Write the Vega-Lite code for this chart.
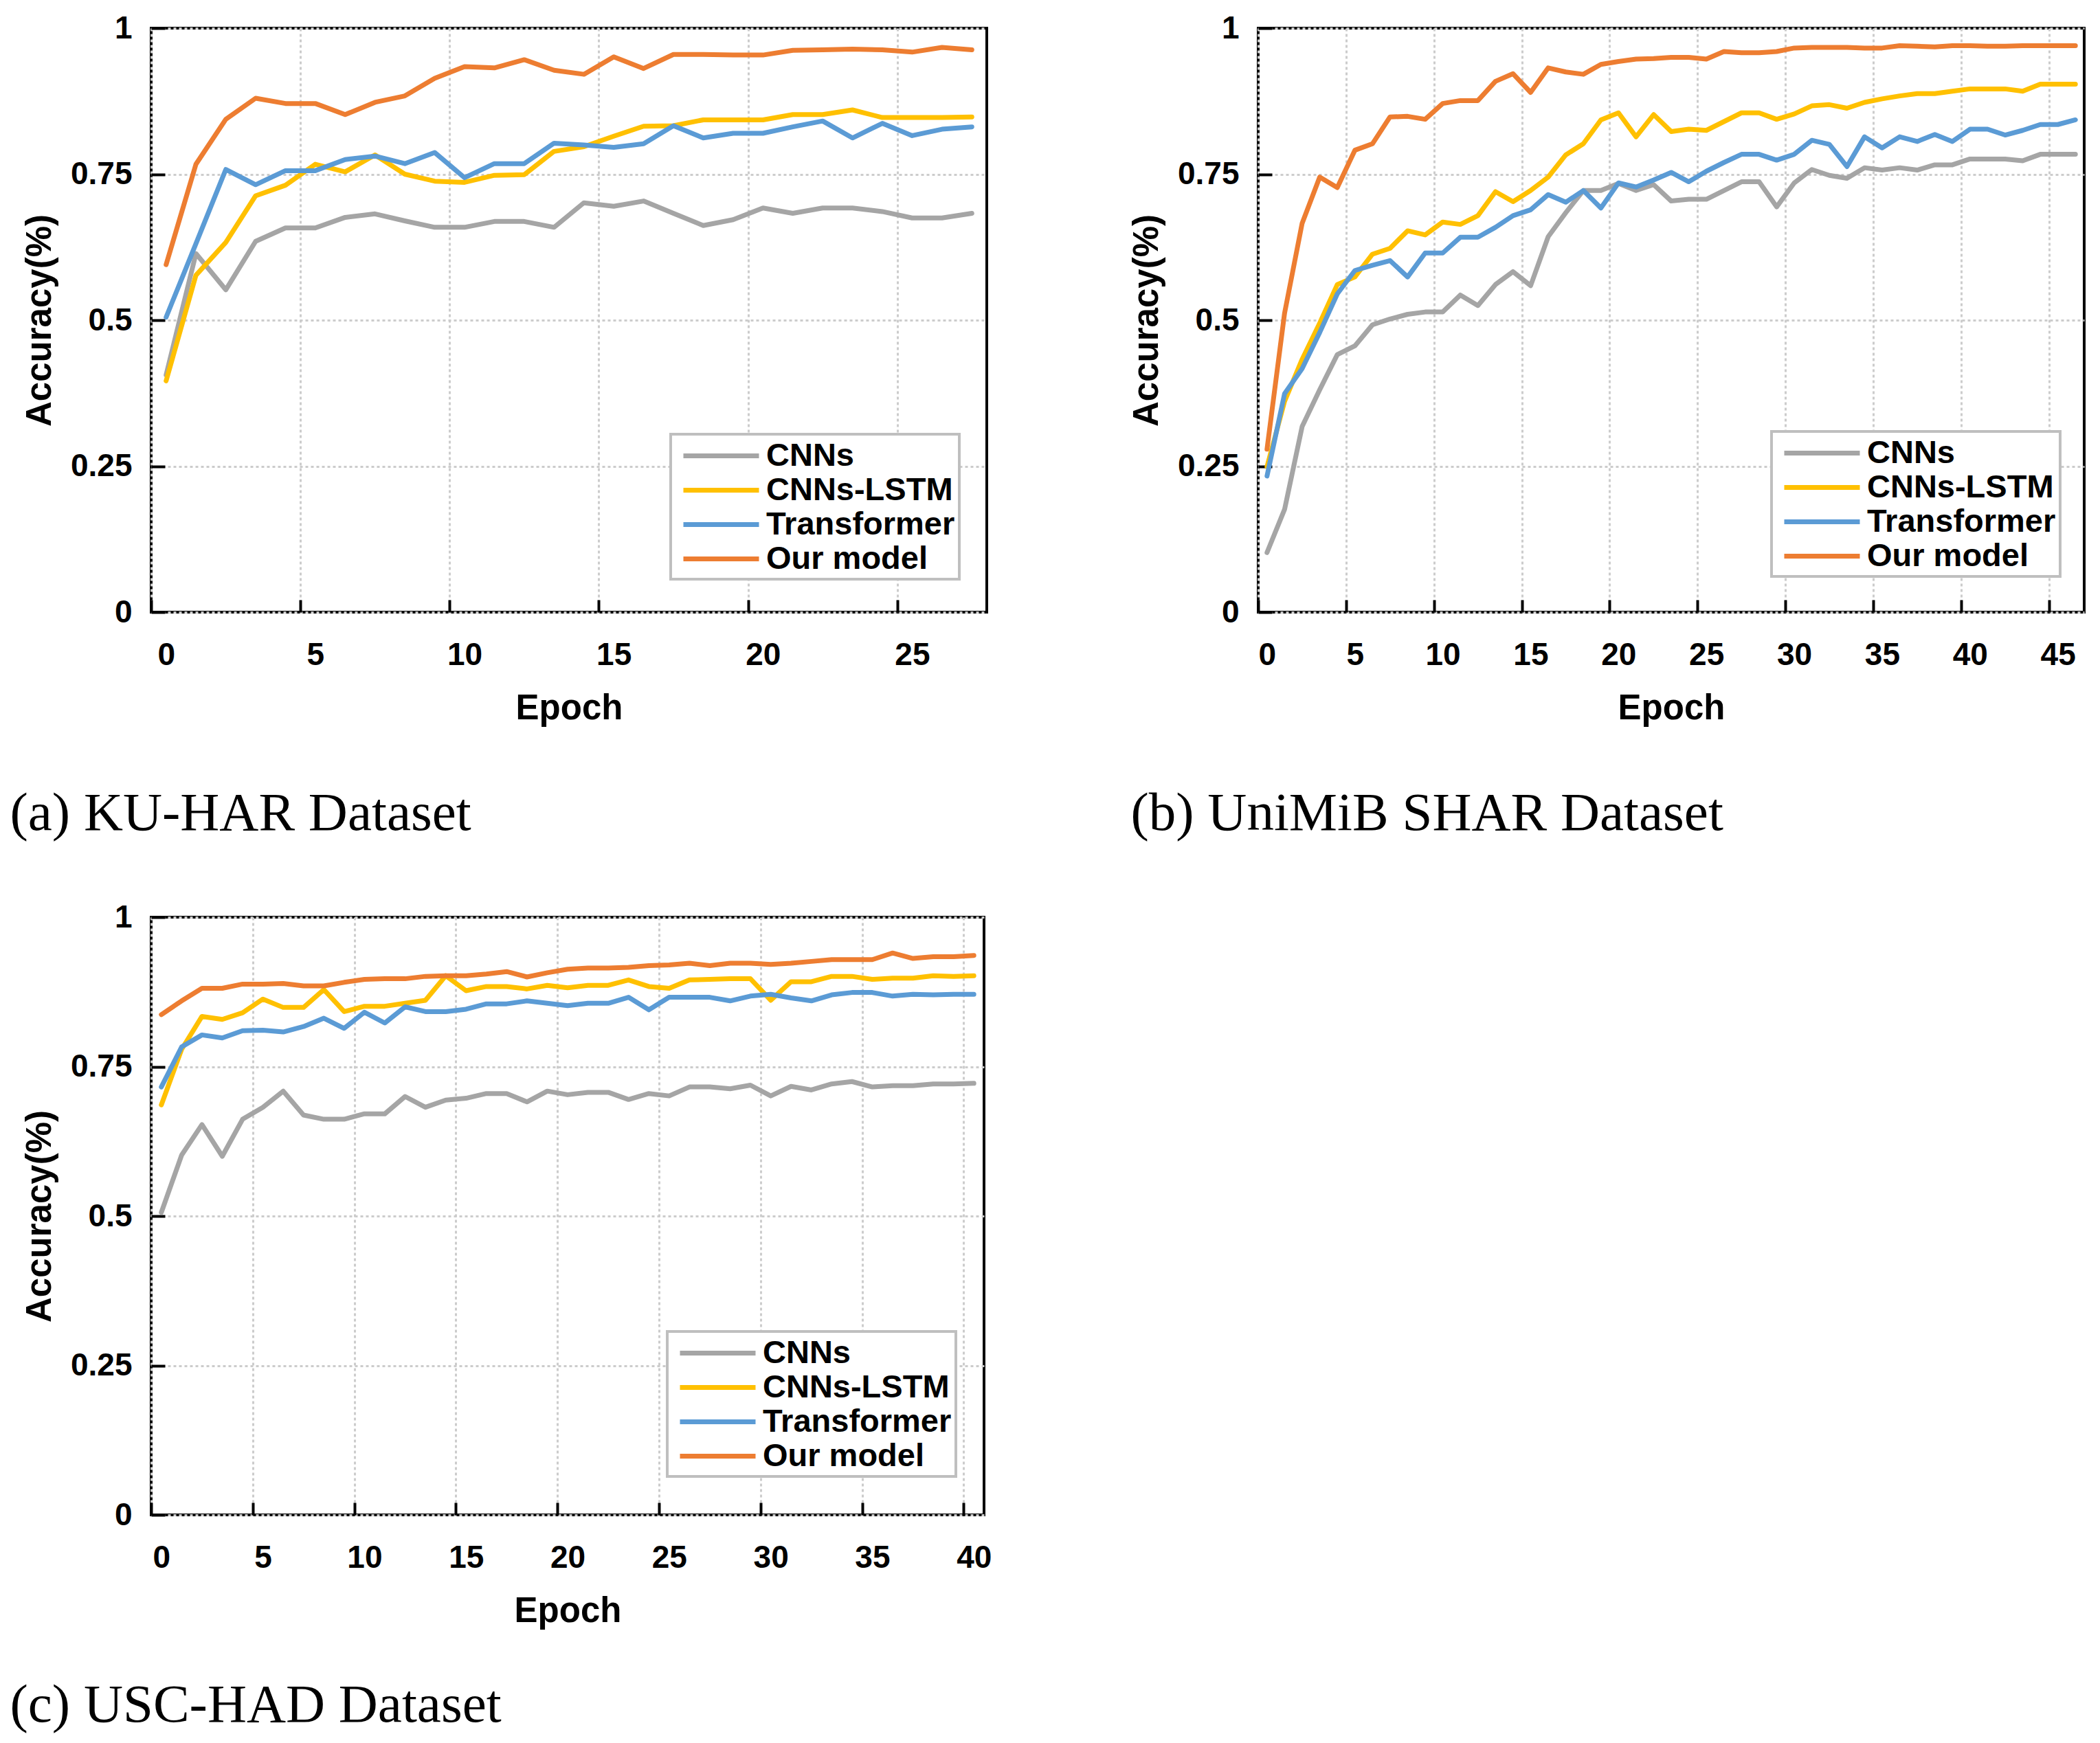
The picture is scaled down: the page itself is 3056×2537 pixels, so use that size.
{
  "$schema": "https://vega.github.io/schema/vega-lite/v6.json",
  "background": "white",
  "padding": {"left": 12, "top": 16, "right": 5, "bottom": 5},
  "config": {
    "view": {"stroke": "black", "strokeWidth": 4},
    "font": "Liberation Sans",
    "axis": {
      "domain": false, "grid": true, "gridColor": "#cccccc", "gridDash": [4, 4], "gridWidth": 3,
      "ticks": true, "tickColor": "black", "tickWidth": 4,
      "labelFont": "Liberation Sans", "labelFontWeight": "bold", "labelFontSize": 46, "labelColor": "black",
      "titleFont": "Liberation Sans", "titleFontWeight": "bold", "titleFontSize": 51, "titleColor": "black",
      "labelFlush": false, "labelOverlap": false
    },
    "axisX": {"tickSize": -18, "labelPadding": 58, "titlePadding": 30},
    "axisY": {"tickSize": -20, "labelPadding": 48, "titlePadding": 18},
    "legend": {
      "title": null, "orient": "none", "symbolType": "M-2.5,0H2.5", "symbolSize": 1936, "symbolStrokeWidth": 6,
      "symbolOffset": 42, "labelOffset": 40, "labelLimit": 0,
      "labelFont": "Liberation Sans", "labelFontWeight": "bold", "labelFontSize": 47, "labelColor": "black",
      "strokeColor": "#bfbfbf", "strokeWidth": 4, "fillColor": "white",
      "padding": 6, "rowPadding": 1
    },
    "title": {
      "orient": "bottom", "anchor": "start", "frame": "bounds", "font": "Liberation Serif",
      "fontSize": 79, "fontWeight": "normal", "color": "black", "offset": 90, "dx": -18
    },
    "line": {"strokeWidth": 7, "strokeJoin": "round", "strokeCap": "round"}
  },
  "datasets": {
    "ku": [
      {"epoch":0,"model":"CNNs","accuracy":0.406},{"epoch":1,"model":"CNNs","accuracy":0.614},{"epoch":2,"model":"CNNs","accuracy":0.552},{"epoch":3,"model":"CNNs","accuracy":0.635},{"epoch":4,"model":"CNNs","accuracy":0.658},{"epoch":5,"model":"CNNs","accuracy":0.658},{"epoch":6,"model":"CNNs","accuracy":0.676},{"epoch":7,"model":"CNNs","accuracy":0.682},{"epoch":8,"model":"CNNs","accuracy":0.670},{"epoch":9,"model":"CNNs","accuracy":0.659},{"epoch":10,"model":"CNNs","accuracy":0.659},{"epoch":11,"model":"CNNs","accuracy":0.669},{"epoch":12,"model":"CNNs","accuracy":0.669},{"epoch":13,"model":"CNNs","accuracy":0.659},{"epoch":14,"model":"CNNs","accuracy":0.701},{"epoch":15,"model":"CNNs","accuracy":0.695},{"epoch":16,"model":"CNNs","accuracy":0.704},{"epoch":17,"model":"CNNs","accuracy":0.683},{"epoch":18,"model":"CNNs","accuracy":0.662},{"epoch":19,"model":"CNNs","accuracy":0.672},{"epoch":20,"model":"CNNs","accuracy":0.692},{"epoch":21,"model":"CNNs","accuracy":0.683},{"epoch":22,"model":"CNNs","accuracy":0.692},{"epoch":23,"model":"CNNs","accuracy":0.692},{"epoch":24,"model":"CNNs","accuracy":0.686},{"epoch":25,"model":"CNNs","accuracy":0.675},{"epoch":26,"model":"CNNs","accuracy":0.675},{"epoch":27,"model":"CNNs","accuracy":0.683},
      {"epoch":0,"model":"CNNs-LSTM","accuracy":0.396},{"epoch":1,"model":"CNNs-LSTM","accuracy":0.577},{"epoch":2,"model":"CNNs-LSTM","accuracy":0.633},{"epoch":3,"model":"CNNs-LSTM","accuracy":0.713},{"epoch":4,"model":"CNNs-LSTM","accuracy":0.731},{"epoch":5,"model":"CNNs-LSTM","accuracy":0.767},{"epoch":6,"model":"CNNs-LSTM","accuracy":0.754},{"epoch":7,"model":"CNNs-LSTM","accuracy":0.783},{"epoch":8,"model":"CNNs-LSTM","accuracy":0.750},{"epoch":9,"model":"CNNs-LSTM","accuracy":0.738},{"epoch":10,"model":"CNNs-LSTM","accuracy":0.736},{"epoch":11,"model":"CNNs-LSTM","accuracy":0.748},{"epoch":12,"model":"CNNs-LSTM","accuracy":0.749},{"epoch":13,"model":"CNNs-LSTM","accuracy":0.789},{"epoch":14,"model":"CNNs-LSTM","accuracy":0.797},{"epoch":15,"model":"CNNs-LSTM","accuracy":0.815},{"epoch":16,"model":"CNNs-LSTM","accuracy":0.832},{"epoch":17,"model":"CNNs-LSTM","accuracy":0.833},{"epoch":18,"model":"CNNs-LSTM","accuracy":0.843},{"epoch":19,"model":"CNNs-LSTM","accuracy":0.843},{"epoch":20,"model":"CNNs-LSTM","accuracy":0.843},{"epoch":21,"model":"CNNs-LSTM","accuracy":0.852},{"epoch":22,"model":"CNNs-LSTM","accuracy":0.852},{"epoch":23,"model":"CNNs-LSTM","accuracy":0.860},{"epoch":24,"model":"CNNs-LSTM","accuracy":0.847},{"epoch":25,"model":"CNNs-LSTM","accuracy":0.847},{"epoch":26,"model":"CNNs-LSTM","accuracy":0.847},{"epoch":27,"model":"CNNs-LSTM","accuracy":0.848},
      {"epoch":0,"model":"Transformer","accuracy":0.505},{"epoch":1,"model":"Transformer","accuracy":0.631},{"epoch":2,"model":"Transformer","accuracy":0.758},{"epoch":3,"model":"Transformer","accuracy":0.732},{"epoch":4,"model":"Transformer","accuracy":0.756},{"epoch":5,"model":"Transformer","accuracy":0.756},{"epoch":6,"model":"Transformer","accuracy":0.775},{"epoch":7,"model":"Transformer","accuracy":0.781},{"epoch":8,"model":"Transformer","accuracy":0.768},{"epoch":9,"model":"Transformer","accuracy":0.787},{"epoch":10,"model":"Transformer","accuracy":0.744},{"epoch":11,"model":"Transformer","accuracy":0.768},{"epoch":12,"model":"Transformer","accuracy":0.768},{"epoch":13,"model":"Transformer","accuracy":0.803},{"epoch":14,"model":"Transformer","accuracy":0.800},{"epoch":15,"model":"Transformer","accuracy":0.796},{"epoch":16,"model":"Transformer","accuracy":0.802},{"epoch":17,"model":"Transformer","accuracy":0.833},{"epoch":18,"model":"Transformer","accuracy":0.812},{"epoch":19,"model":"Transformer","accuracy":0.820},{"epoch":20,"model":"Transformer","accuracy":0.820},{"epoch":21,"model":"Transformer","accuracy":0.831},{"epoch":22,"model":"Transformer","accuracy":0.841},{"epoch":23,"model":"Transformer","accuracy":0.812},{"epoch":24,"model":"Transformer","accuracy":0.837},{"epoch":25,"model":"Transformer","accuracy":0.816},{"epoch":26,"model":"Transformer","accuracy":0.827},{"epoch":27,"model":"Transformer","accuracy":0.831},
      {"epoch":0,"model":"Our model","accuracy":0.595},{"epoch":1,"model":"Our model","accuracy":0.767},{"epoch":2,"model":"Our model","accuracy":0.844},{"epoch":3,"model":"Our model","accuracy":0.880},{"epoch":4,"model":"Our model","accuracy":0.871},{"epoch":5,"model":"Our model","accuracy":0.871},{"epoch":6,"model":"Our model","accuracy":0.852},{"epoch":7,"model":"Our model","accuracy":0.873},{"epoch":8,"model":"Our model","accuracy":0.884},{"epoch":9,"model":"Our model","accuracy":0.914},{"epoch":10,"model":"Our model","accuracy":0.934},{"epoch":11,"model":"Our model","accuracy":0.932},{"epoch":12,"model":"Our model","accuracy":0.946},{"epoch":13,"model":"Our model","accuracy":0.928},{"epoch":14,"model":"Our model","accuracy":0.921},{"epoch":15,"model":"Our model","accuracy":0.951},{"epoch":16,"model":"Our model","accuracy":0.931},{"epoch":17,"model":"Our model","accuracy":0.955},{"epoch":18,"model":"Our model","accuracy":0.955},{"epoch":19,"model":"Our model","accuracy":0.954},{"epoch":20,"model":"Our model","accuracy":0.954},{"epoch":21,"model":"Our model","accuracy":0.962},{"epoch":22,"model":"Our model","accuracy":0.963},{"epoch":23,"model":"Our model","accuracy":0.964},{"epoch":24,"model":"Our model","accuracy":0.963},{"epoch":25,"model":"Our model","accuracy":0.959},{"epoch":26,"model":"Our model","accuracy":0.967},{"epoch":27,"model":"Our model","accuracy":0.963}
    ],
    "unimib": [
      {"epoch":0,"model":"CNNs","accuracy":0.102},{"epoch":1,"model":"CNNs","accuracy":0.176},{"epoch":2,"model":"CNNs","accuracy":0.318},{"epoch":3,"model":"CNNs","accuracy":0.381},{"epoch":4,"model":"CNNs","accuracy":0.441},{"epoch":5,"model":"CNNs","accuracy":0.456},{"epoch":6,"model":"CNNs","accuracy":0.492},{"epoch":7,"model":"CNNs","accuracy":0.502},{"epoch":8,"model":"CNNs","accuracy":0.510},{"epoch":9,"model":"CNNs","accuracy":0.514},{"epoch":10,"model":"CNNs","accuracy":0.514},{"epoch":11,"model":"CNNs","accuracy":0.543},{"epoch":12,"model":"CNNs","accuracy":0.525},{"epoch":13,"model":"CNNs","accuracy":0.561},{"epoch":14,"model":"CNNs","accuracy":0.583},{"epoch":15,"model":"CNNs","accuracy":0.559},{"epoch":16,"model":"CNNs","accuracy":0.643},{"epoch":17,"model":"CNNs","accuracy":0.684},{"epoch":18,"model":"CNNs","accuracy":0.722},{"epoch":19,"model":"CNNs","accuracy":0.722},{"epoch":20,"model":"CNNs","accuracy":0.734},{"epoch":21,"model":"CNNs","accuracy":0.722},{"epoch":22,"model":"CNNs","accuracy":0.732},{"epoch":23,"model":"CNNs","accuracy":0.704},{"epoch":24,"model":"CNNs","accuracy":0.707},{"epoch":25,"model":"CNNs","accuracy":0.707},{"epoch":26,"model":"CNNs","accuracy":0.722},{"epoch":27,"model":"CNNs","accuracy":0.737},{"epoch":28,"model":"CNNs","accuracy":0.737},{"epoch":29,"model":"CNNs","accuracy":0.694},{"epoch":30,"model":"CNNs","accuracy":0.735},{"epoch":31,"model":"CNNs","accuracy":0.758},{"epoch":32,"model":"CNNs","accuracy":0.748},{"epoch":33,"model":"CNNs","accuracy":0.743},{"epoch":34,"model":"CNNs","accuracy":0.761},{"epoch":35,"model":"CNNs","accuracy":0.757},{"epoch":36,"model":"CNNs","accuracy":0.761},{"epoch":37,"model":"CNNs","accuracy":0.757},{"epoch":38,"model":"CNNs","accuracy":0.766},{"epoch":39,"model":"CNNs","accuracy":0.766},{"epoch":40,"model":"CNNs","accuracy":0.776},{"epoch":41,"model":"CNNs","accuracy":0.776},{"epoch":42,"model":"CNNs","accuracy":0.776},{"epoch":43,"model":"CNNs","accuracy":0.773},{"epoch":44,"model":"CNNs","accuracy":0.784},{"epoch":45,"model":"CNNs","accuracy":0.784},{"epoch":46,"model":"CNNs","accuracy":0.784},
      {"epoch":0,"model":"CNNs-LSTM","accuracy":0.249},{"epoch":1,"model":"CNNs-LSTM","accuracy":0.361},{"epoch":2,"model":"CNNs-LSTM","accuracy":0.433},{"epoch":3,"model":"CNNs-LSTM","accuracy":0.495},{"epoch":4,"model":"CNNs-LSTM","accuracy":0.561},{"epoch":5,"model":"CNNs-LSTM","accuracy":0.574},{"epoch":6,"model":"CNNs-LSTM","accuracy":0.613},{"epoch":7,"model":"CNNs-LSTM","accuracy":0.623},{"epoch":8,"model":"CNNs-LSTM","accuracy":0.653},{"epoch":9,"model":"CNNs-LSTM","accuracy":0.646},{"epoch":10,"model":"CNNs-LSTM","accuracy":0.668},{"epoch":11,"model":"CNNs-LSTM","accuracy":0.664},{"epoch":12,"model":"CNNs-LSTM","accuracy":0.679},{"epoch":13,"model":"CNNs-LSTM","accuracy":0.720},{"epoch":14,"model":"CNNs-LSTM","accuracy":0.703},{"epoch":15,"model":"CNNs-LSTM","accuracy":0.722},{"epoch":16,"model":"CNNs-LSTM","accuracy":0.745},{"epoch":17,"model":"CNNs-LSTM","accuracy":0.783},{"epoch":18,"model":"CNNs-LSTM","accuracy":0.802},{"epoch":19,"model":"CNNs-LSTM","accuracy":0.843},{"epoch":20,"model":"CNNs-LSTM","accuracy":0.855},{"epoch":21,"model":"CNNs-LSTM","accuracy":0.814},{"epoch":22,"model":"CNNs-LSTM","accuracy":0.852},{"epoch":23,"model":"CNNs-LSTM","accuracy":0.823},{"epoch":24,"model":"CNNs-LSTM","accuracy":0.827},{"epoch":25,"model":"CNNs-LSTM","accuracy":0.825},{"epoch":26,"model":"CNNs-LSTM","accuracy":0.840},{"epoch":27,"model":"CNNs-LSTM","accuracy":0.855},{"epoch":28,"model":"CNNs-LSTM","accuracy":0.855},{"epoch":29,"model":"CNNs-LSTM","accuracy":0.844},{"epoch":30,"model":"CNNs-LSTM","accuracy":0.853},{"epoch":31,"model":"CNNs-LSTM","accuracy":0.867},{"epoch":32,"model":"CNNs-LSTM","accuracy":0.869},{"epoch":33,"model":"CNNs-LSTM","accuracy":0.863},{"epoch":34,"model":"CNNs-LSTM","accuracy":0.873},{"epoch":35,"model":"CNNs-LSTM","accuracy":0.879},{"epoch":36,"model":"CNNs-LSTM","accuracy":0.884},{"epoch":37,"model":"CNNs-LSTM","accuracy":0.888},{"epoch":38,"model":"CNNs-LSTM","accuracy":0.888},{"epoch":39,"model":"CNNs-LSTM","accuracy":0.892},{"epoch":40,"model":"CNNs-LSTM","accuracy":0.896},{"epoch":41,"model":"CNNs-LSTM","accuracy":0.896},{"epoch":42,"model":"CNNs-LSTM","accuracy":0.896},{"epoch":43,"model":"CNNs-LSTM","accuracy":0.892},{"epoch":44,"model":"CNNs-LSTM","accuracy":0.904},{"epoch":45,"model":"CNNs-LSTM","accuracy":0.904},{"epoch":46,"model":"CNNs-LSTM","accuracy":0.904},
      {"epoch":0,"model":"Transformer","accuracy":0.233},{"epoch":1,"model":"Transformer","accuracy":0.374},{"epoch":2,"model":"Transformer","accuracy":0.417},{"epoch":3,"model":"Transformer","accuracy":0.479},{"epoch":4,"model":"Transformer","accuracy":0.545},{"epoch":5,"model":"Transformer","accuracy":0.585},{"epoch":6,"model":"Transformer","accuracy":0.594},{"epoch":7,"model":"Transformer","accuracy":0.602},{"epoch":8,"model":"Transformer","accuracy":0.574},{"epoch":9,"model":"Transformer","accuracy":0.615},{"epoch":10,"model":"Transformer","accuracy":0.615},{"epoch":11,"model":"Transformer","accuracy":0.642},{"epoch":12,"model":"Transformer","accuracy":0.642},{"epoch":13,"model":"Transformer","accuracy":0.659},{"epoch":14,"model":"Transformer","accuracy":0.679},{"epoch":15,"model":"Transformer","accuracy":0.689},{"epoch":16,"model":"Transformer","accuracy":0.715},{"epoch":17,"model":"Transformer","accuracy":0.702},{"epoch":18,"model":"Transformer","accuracy":0.722},{"epoch":19,"model":"Transformer","accuracy":0.692},{"epoch":20,"model":"Transformer","accuracy":0.735},{"epoch":21,"model":"Transformer","accuracy":0.728},{"epoch":22,"model":"Transformer","accuracy":0.740},{"epoch":23,"model":"Transformer","accuracy":0.753},{"epoch":24,"model":"Transformer","accuracy":0.737},{"epoch":25,"model":"Transformer","accuracy":0.755},{"epoch":26,"model":"Transformer","accuracy":0.770},{"epoch":27,"model":"Transformer","accuracy":0.784},{"epoch":28,"model":"Transformer","accuracy":0.784},{"epoch":29,"model":"Transformer","accuracy":0.774},{"epoch":30,"model":"Transformer","accuracy":0.784},{"epoch":31,"model":"Transformer","accuracy":0.808},{"epoch":32,"model":"Transformer","accuracy":0.801},{"epoch":33,"model":"Transformer","accuracy":0.763},{"epoch":34,"model":"Transformer","accuracy":0.814},{"epoch":35,"model":"Transformer","accuracy":0.795},{"epoch":36,"model":"Transformer","accuracy":0.814},{"epoch":37,"model":"Transformer","accuracy":0.806},{"epoch":38,"model":"Transformer","accuracy":0.818},{"epoch":39,"model":"Transformer","accuracy":0.806},{"epoch":40,"model":"Transformer","accuracy":0.827},{"epoch":41,"model":"Transformer","accuracy":0.827},{"epoch":42,"model":"Transformer","accuracy":0.817},{"epoch":43,"model":"Transformer","accuracy":0.825},{"epoch":44,"model":"Transformer","accuracy":0.835},{"epoch":45,"model":"Transformer","accuracy":0.835},{"epoch":46,"model":"Transformer","accuracy":0.843},
      {"epoch":0,"model":"Our model","accuracy":0.279},{"epoch":1,"model":"Our model","accuracy":0.512},{"epoch":2,"model":"Our model","accuracy":0.666},{"epoch":3,"model":"Our model","accuracy":0.745},{"epoch":4,"model":"Our model","accuracy":0.727},{"epoch":5,"model":"Our model","accuracy":0.791},{"epoch":6,"model":"Our model","accuracy":0.802},{"epoch":7,"model":"Our model","accuracy":0.848},{"epoch":8,"model":"Our model","accuracy":0.849},{"epoch":9,"model":"Our model","accuracy":0.844},{"epoch":10,"model":"Our model","accuracy":0.871},{"epoch":11,"model":"Our model","accuracy":0.876},{"epoch":12,"model":"Our model","accuracy":0.876},{"epoch":13,"model":"Our model","accuracy":0.909},{"epoch":14,"model":"Our model","accuracy":0.922},{"epoch":15,"model":"Our model","accuracy":0.890},{"epoch":16,"model":"Our model","accuracy":0.932},{"epoch":17,"model":"Our model","accuracy":0.925},{"epoch":18,"model":"Our model","accuracy":0.921},{"epoch":19,"model":"Our model","accuracy":0.938},{"epoch":20,"model":"Our model","accuracy":0.943},{"epoch":21,"model":"Our model","accuracy":0.947},{"epoch":22,"model":"Our model","accuracy":0.948},{"epoch":23,"model":"Our model","accuracy":0.950},{"epoch":24,"model":"Our model","accuracy":0.950},{"epoch":25,"model":"Our model","accuracy":0.947},{"epoch":26,"model":"Our model","accuracy":0.960},{"epoch":27,"model":"Our model","accuracy":0.958},{"epoch":28,"model":"Our model","accuracy":0.958},{"epoch":29,"model":"Our model","accuracy":0.960},{"epoch":30,"model":"Our model","accuracy":0.966},{"epoch":31,"model":"Our model","accuracy":0.967},{"epoch":32,"model":"Our model","accuracy":0.967},{"epoch":33,"model":"Our model","accuracy":0.967},{"epoch":34,"model":"Our model","accuracy":0.966},{"epoch":35,"model":"Our model","accuracy":0.966},{"epoch":36,"model":"Our model","accuracy":0.970},{"epoch":37,"model":"Our model","accuracy":0.969},{"epoch":38,"model":"Our model","accuracy":0.968},{"epoch":39,"model":"Our model","accuracy":0.970},{"epoch":40,"model":"Our model","accuracy":0.970},{"epoch":41,"model":"Our model","accuracy":0.969},{"epoch":42,"model":"Our model","accuracy":0.969},{"epoch":43,"model":"Our model","accuracy":0.970},{"epoch":44,"model":"Our model","accuracy":0.970},{"epoch":45,"model":"Our model","accuracy":0.970},{"epoch":46,"model":"Our model","accuracy":0.970}
    ],
    "usc": [
      {"epoch":0,"model":"CNNs","accuracy":0.506},{"epoch":1,"model":"CNNs","accuracy":0.602},{"epoch":2,"model":"CNNs","accuracy":0.653},{"epoch":3,"model":"CNNs","accuracy":0.600},{"epoch":4,"model":"CNNs","accuracy":0.662},{"epoch":5,"model":"CNNs","accuracy":0.682},{"epoch":6,"model":"CNNs","accuracy":0.709},{"epoch":7,"model":"CNNs","accuracy":0.669},{"epoch":8,"model":"CNNs","accuracy":0.662},{"epoch":9,"model":"CNNs","accuracy":0.662},{"epoch":10,"model":"CNNs","accuracy":0.671},{"epoch":11,"model":"CNNs","accuracy":0.671},{"epoch":12,"model":"CNNs","accuracy":0.700},{"epoch":13,"model":"CNNs","accuracy":0.682},{"epoch":14,"model":"CNNs","accuracy":0.694},{"epoch":15,"model":"CNNs","accuracy":0.697},{"epoch":16,"model":"CNNs","accuracy":0.705},{"epoch":17,"model":"CNNs","accuracy":0.705},{"epoch":18,"model":"CNNs","accuracy":0.691},{"epoch":19,"model":"CNNs","accuracy":0.709},{"epoch":20,"model":"CNNs","accuracy":0.703},{"epoch":21,"model":"CNNs","accuracy":0.707},{"epoch":22,"model":"CNNs","accuracy":0.707},{"epoch":23,"model":"CNNs","accuracy":0.695},{"epoch":24,"model":"CNNs","accuracy":0.705},{"epoch":25,"model":"CNNs","accuracy":0.701},{"epoch":26,"model":"CNNs","accuracy":0.716},{"epoch":27,"model":"CNNs","accuracy":0.716},{"epoch":28,"model":"CNNs","accuracy":0.713},{"epoch":29,"model":"CNNs","accuracy":0.719},{"epoch":30,"model":"CNNs","accuracy":0.701},{"epoch":31,"model":"CNNs","accuracy":0.717},{"epoch":32,"model":"CNNs","accuracy":0.711},{"epoch":33,"model":"CNNs","accuracy":0.721},{"epoch":34,"model":"CNNs","accuracy":0.725},{"epoch":35,"model":"CNNs","accuracy":0.716},{"epoch":36,"model":"CNNs","accuracy":0.718},{"epoch":37,"model":"CNNs","accuracy":0.718},{"epoch":38,"model":"CNNs","accuracy":0.721},{"epoch":39,"model":"CNNs","accuracy":0.721},{"epoch":40,"model":"CNNs","accuracy":0.722},
      {"epoch":0,"model":"CNNs-LSTM","accuracy":0.686},{"epoch":1,"model":"CNNs-LSTM","accuracy":0.779},{"epoch":2,"model":"CNNs-LSTM","accuracy":0.834},{"epoch":3,"model":"CNNs-LSTM","accuracy":0.829},{"epoch":4,"model":"CNNs-LSTM","accuracy":0.840},{"epoch":5,"model":"CNNs-LSTM","accuracy":0.863},{"epoch":6,"model":"CNNs-LSTM","accuracy":0.849},{"epoch":7,"model":"CNNs-LSTM","accuracy":0.849},{"epoch":8,"model":"CNNs-LSTM","accuracy":0.879},{"epoch":9,"model":"CNNs-LSTM","accuracy":0.842},{"epoch":10,"model":"CNNs-LSTM","accuracy":0.851},{"epoch":11,"model":"CNNs-LSTM","accuracy":0.851},{"epoch":12,"model":"CNNs-LSTM","accuracy":0.856},{"epoch":13,"model":"CNNs-LSTM","accuracy":0.861},{"epoch":14,"model":"CNNs-LSTM","accuracy":0.902},{"epoch":15,"model":"CNNs-LSTM","accuracy":0.877},{"epoch":16,"model":"CNNs-LSTM","accuracy":0.884},{"epoch":17,"model":"CNNs-LSTM","accuracy":0.884},{"epoch":18,"model":"CNNs-LSTM","accuracy":0.880},{"epoch":19,"model":"CNNs-LSTM","accuracy":0.886},{"epoch":20,"model":"CNNs-LSTM","accuracy":0.882},{"epoch":21,"model":"CNNs-LSTM","accuracy":0.886},{"epoch":22,"model":"CNNs-LSTM","accuracy":0.886},{"epoch":23,"model":"CNNs-LSTM","accuracy":0.895},{"epoch":24,"model":"CNNs-LSTM","accuracy":0.884},{"epoch":25,"model":"CNNs-LSTM","accuracy":0.881},{"epoch":26,"model":"CNNs-LSTM","accuracy":0.895},{"epoch":27,"model":"CNNs-LSTM","accuracy":0.896},{"epoch":28,"model":"CNNs-LSTM","accuracy":0.897},{"epoch":29,"model":"CNNs-LSTM","accuracy":0.897},{"epoch":30,"model":"CNNs-LSTM","accuracy":0.861},{"epoch":31,"model":"CNNs-LSTM","accuracy":0.892},{"epoch":32,"model":"CNNs-LSTM","accuracy":0.892},{"epoch":33,"model":"CNNs-LSTM","accuracy":0.901},{"epoch":34,"model":"CNNs-LSTM","accuracy":0.901},{"epoch":35,"model":"CNNs-LSTM","accuracy":0.896},{"epoch":36,"model":"CNNs-LSTM","accuracy":0.898},{"epoch":37,"model":"CNNs-LSTM","accuracy":0.898},{"epoch":38,"model":"CNNs-LSTM","accuracy":0.902},{"epoch":39,"model":"CNNs-LSTM","accuracy":0.901},{"epoch":40,"model":"CNNs-LSTM","accuracy":0.902},
      {"epoch":0,"model":"Transformer","accuracy":0.716},{"epoch":1,"model":"Transformer","accuracy":0.783},{"epoch":2,"model":"Transformer","accuracy":0.803},{"epoch":3,"model":"Transformer","accuracy":0.798},{"epoch":4,"model":"Transformer","accuracy":0.810},{"epoch":5,"model":"Transformer","accuracy":0.811},{"epoch":6,"model":"Transformer","accuracy":0.808},{"epoch":7,"model":"Transformer","accuracy":0.817},{"epoch":8,"model":"Transformer","accuracy":0.831},{"epoch":9,"model":"Transformer","accuracy":0.814},{"epoch":10,"model":"Transformer","accuracy":0.841},{"epoch":11,"model":"Transformer","accuracy":0.823},{"epoch":12,"model":"Transformer","accuracy":0.850},{"epoch":13,"model":"Transformer","accuracy":0.842},{"epoch":14,"model":"Transformer","accuracy":0.842},{"epoch":15,"model":"Transformer","accuracy":0.846},{"epoch":16,"model":"Transformer","accuracy":0.855},{"epoch":17,"model":"Transformer","accuracy":0.855},{"epoch":18,"model":"Transformer","accuracy":0.860},{"epoch":19,"model":"Transformer","accuracy":0.856},{"epoch":20,"model":"Transformer","accuracy":0.852},{"epoch":21,"model":"Transformer","accuracy":0.856},{"epoch":22,"model":"Transformer","accuracy":0.856},{"epoch":23,"model":"Transformer","accuracy":0.866},{"epoch":24,"model":"Transformer","accuracy":0.845},{"epoch":25,"model":"Transformer","accuracy":0.866},{"epoch":26,"model":"Transformer","accuracy":0.866},{"epoch":27,"model":"Transformer","accuracy":0.866},{"epoch":28,"model":"Transformer","accuracy":0.860},{"epoch":29,"model":"Transformer","accuracy":0.868},{"epoch":30,"model":"Transformer","accuracy":0.871},{"epoch":31,"model":"Transformer","accuracy":0.865},{"epoch":32,"model":"Transformer","accuracy":0.860},{"epoch":33,"model":"Transformer","accuracy":0.870},{"epoch":34,"model":"Transformer","accuracy":0.874},{"epoch":35,"model":"Transformer","accuracy":0.874},{"epoch":36,"model":"Transformer","accuracy":0.868},{"epoch":37,"model":"Transformer","accuracy":0.871},{"epoch":38,"model":"Transformer","accuracy":0.870},{"epoch":39,"model":"Transformer","accuracy":0.871},{"epoch":40,"model":"Transformer","accuracy":0.871},
      {"epoch":0,"model":"Our model","accuracy":0.837},{"epoch":1,"model":"Our model","accuracy":0.860},{"epoch":2,"model":"Our model","accuracy":0.881},{"epoch":3,"model":"Our model","accuracy":0.881},{"epoch":4,"model":"Our model","accuracy":0.888},{"epoch":5,"model":"Our model","accuracy":0.888},{"epoch":6,"model":"Our model","accuracy":0.889},{"epoch":7,"model":"Our model","accuracy":0.885},{"epoch":8,"model":"Our model","accuracy":0.885},{"epoch":9,"model":"Our model","accuracy":0.891},{"epoch":10,"model":"Our model","accuracy":0.896},{"epoch":11,"model":"Our model","accuracy":0.897},{"epoch":12,"model":"Our model","accuracy":0.897},{"epoch":13,"model":"Our model","accuracy":0.901},{"epoch":14,"model":"Our model","accuracy":0.902},{"epoch":15,"model":"Our model","accuracy":0.902},{"epoch":16,"model":"Our model","accuracy":0.905},{"epoch":17,"model":"Our model","accuracy":0.909},{"epoch":18,"model":"Our model","accuracy":0.900},{"epoch":19,"model":"Our model","accuracy":0.907},{"epoch":20,"model":"Our model","accuracy":0.913},{"epoch":21,"model":"Our model","accuracy":0.915},{"epoch":22,"model":"Our model","accuracy":0.915},{"epoch":23,"model":"Our model","accuracy":0.916},{"epoch":24,"model":"Our model","accuracy":0.919},{"epoch":25,"model":"Our model","accuracy":0.920},{"epoch":26,"model":"Our model","accuracy":0.923},{"epoch":27,"model":"Our model","accuracy":0.919},{"epoch":28,"model":"Our model","accuracy":0.923},{"epoch":29,"model":"Our model","accuracy":0.923},{"epoch":30,"model":"Our model","accuracy":0.921},{"epoch":31,"model":"Our model","accuracy":0.923},{"epoch":32,"model":"Our model","accuracy":0.926},{"epoch":33,"model":"Our model","accuracy":0.929},{"epoch":34,"model":"Our model","accuracy":0.929},{"epoch":35,"model":"Our model","accuracy":0.929},{"epoch":36,"model":"Our model","accuracy":0.940},{"epoch":37,"model":"Our model","accuracy":0.931},{"epoch":38,"model":"Our model","accuracy":0.934},{"epoch":39,"model":"Our model","accuracy":0.934},{"epoch":40,"model":"Our model","accuracy":0.936}
    ]
  },
  "resolve": {"legend": {"color": "independent"}, "scale": {"x": "independent"}},
  "spacing": 84,
  "vconcat": [
    {
      "resolve": {"legend": {"color": "independent"}, "scale": {"x": "independent"}},
      "spacing": 203,
      "hconcat": [
        {
          "data": {"name": "ku"},
          "width": 1216, "height": 850,
          "title": {"text": "(a) KU-HAR Dataset"},
          "mark": {"type": "line"},
          "encoding": {
            "x": {"field": "epoch", "type": "quantitative", "scale": {"domain": [-0.5, 27.5], "nice": false, "zero": false},
                  "axis": {"title": "Epoch", "values": [-0.5, 4.5, 9.5, 14.5, 19.5, 24.5], "labelExpr": "format(datum.value + 0.5, 'd')", "labelOffset": 21.7}},
            "y": {"field": "accuracy", "type": "quantitative", "scale": {"domain": [0, 1], "nice": false},
                  "axis": {"title": "Accuracy(%)", "values": [0, 0.25, 0.5, 0.75, 1], "format": ".2~f"}},
            "color": {"field": "model", "type": "nominal",
                      "scale": {"domain": ["CNNs", "CNNs-LSTM", "Transformer", "Our model"], "range": ["#a5a5a5", "#ffc000", "#5b9bd5", "#ed7d31"]},
                      "legend": {"legendX": 756, "legendY": 591}}
          }
        },
        {
          "data": {"name": "unimib"},
          "width": 1202, "height": 850,
          "title": {"text": "(b) UniMiB SHAR Dataset", "dx": 2},
          "mark": {"type": "line"},
          "encoding": {
            "x": {"field": "epoch", "type": "quantitative", "scale": {"domain": [-0.5, 46.5], "nice": false, "zero": false},
                  "axis": {"title": "Epoch", "values": [-0.5, 4.5, 9.5, 14.5, 19.5, 24.5, 29.5, 34.5, 39.5, 44.5], "labelExpr": "format(datum.value + 0.5, 'd')", "labelOffset": 12.8}},
            "y": {"field": "accuracy", "type": "quantitative", "scale": {"domain": [0, 1], "nice": false},
                  "axis": {"title": "Accuracy(%)", "values": [0, 0.25, 0.5, 0.75, 1], "format": ".2~f"}},
            "color": {"field": "model", "type": "nominal",
                      "scale": {"domain": ["CNNs", "CNNs-LSTM", "Transformer", "Our model"], "range": ["#a5a5a5", "#ffc000", "#5b9bd5", "#ed7d31"]},
                      "legend": {"legendX": 747, "legendY": 587}}
          }
        }
      ]
    },
    {
      "data": {"name": "usc"},
      "width": 1212, "height": 870,
      "title": {"text": "(c) USC-HAD Dataset", "offset": 74},
      "mark": {"type": "line"},
      "encoding": {
        "x": {"field": "epoch", "type": "quantitative", "scale": {"domain": [-0.5, 40.5], "nice": false, "zero": false},
              "axis": {"title": "Epoch", "values": [-0.5, 4.5, 9.5, 14.5, 19.5, 24.5, 29.5, 34.5, 39.5], "labelExpr": "format(datum.value + 0.5, 'd')", "labelOffset": 14.8}},
        "y": {"field": "accuracy", "type": "quantitative", "scale": {"domain": [0, 1], "nice": false},
              "axis": {"title": "Accuracy(%)", "values": [0, 0.25, 0.5, 0.75, 1], "format": ".2~f"}},
        "color": {"field": "model", "type": "nominal",
                  "scale": {"domain": ["CNNs", "CNNs-LSTM", "Transformer", "Our model"], "range": ["#a5a5a5", "#ffc000", "#5b9bd5", "#ed7d31"]},
                  "legend": {"legendX": 751, "legendY": 603}}
      }
    }
  ]
}
